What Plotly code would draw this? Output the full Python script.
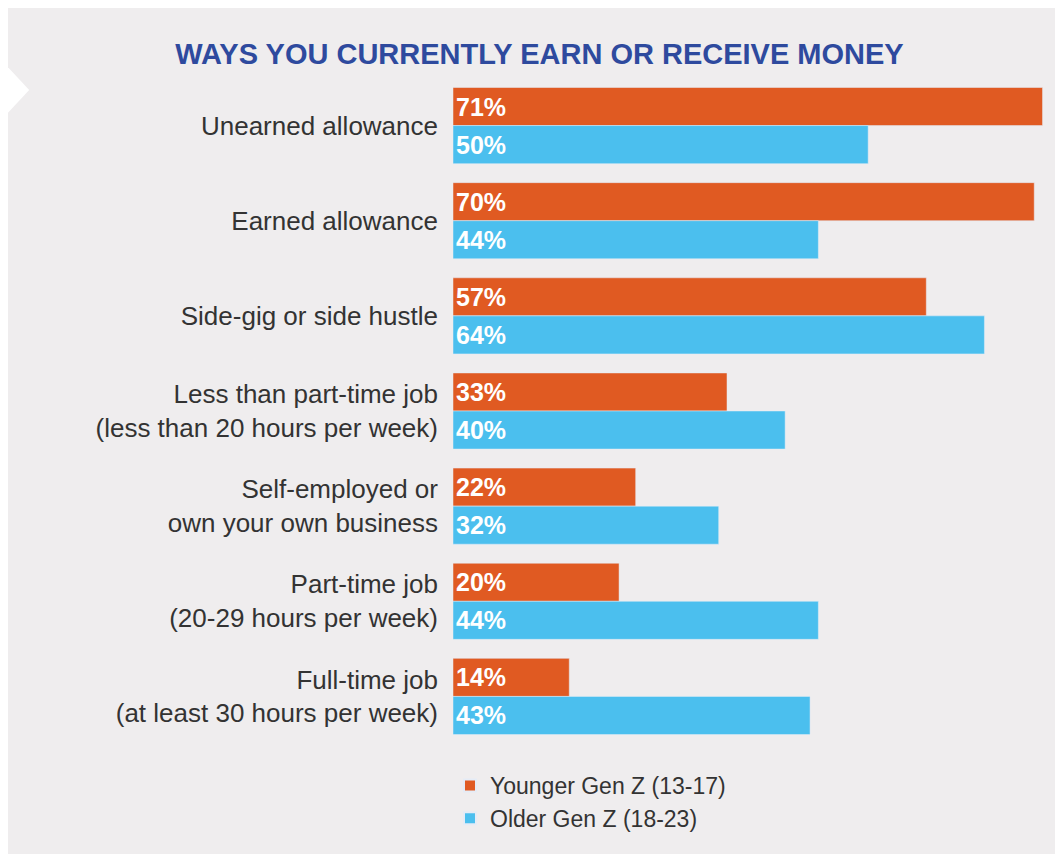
import plotly.graph_objects as go

categories = ["Unearned allowance", "Earned allowance", "Side-gig or side hustle",
              "Less than part-time job<br>(less than 20 hours per week)",
              "Self-employed or<br>own your own business",
              "Part-time job<br>(20-29 hours per week)",
              "Full-time job<br>(at least 30 hours per week)"]
younger = [71, 70, 57, 33, 22, 20, 14]
older = [50, 44, 64, 40, 32, 44, 43]

fig = go.Figure()
fig.add_trace(go.Bar(y=categories, x=younger, orientation="h", name="Younger Gen Z (13-17)",
                     marker_color="#e05a22", text=[f"<b>{v}%</b>" for v in younger]))
fig.add_trace(go.Bar(y=categories, x=older, orientation="h", name="Older Gen Z (18-23)",
                     marker_color="#4bbfee", text=[f"<b>{v}%</b>" for v in older]))
fig.update_traces(textposition="inside", insidetextanchor="start",
                  textfont=dict(color="white", size=25, family="Liberation Sans"),
                  textangle=0, cliponaxis=False)

# white arrow decoration at the left edge
fig.add_shape(type="path", xref="paper", yref="paper",
              path="M -0.77 1.046 L -0.704 0.982 L -0.77 0.918 Z",
              fillcolor="white", line_width=0)

fig.update_layout(
    width=1063, height=854,
    paper_bgcolor="#efedee", plot_bgcolor="#efedee",
    margin=dict(l=445, r=16, t=70, b=118),
    barmode="group", bargap=0.2, bargroupgap=0,
    title=dict(text="<b>WAYS YOU CURRENTLY EARN OR RECEIVE MONEY</b>", x=0.5, xref="container",
               xanchor="center", y=0.958, font=dict(size=29, color="#2e4a9e", family="Liberation Sans")),
    xaxis=dict(range=[0, 72.5], visible=False),
    yaxis=dict(autorange="reversed", showgrid=False, ticks="", ticklabelstandoff=14,
               tickfont=dict(size=26, color="#333333", family="Liberation Sans")),
    legend=dict(x=-0.005, y=-0.03, yanchor="top", xanchor="left", traceorder="normal",
                font=dict(size=23, color="#333333", family="Liberation Sans"),
                bgcolor="rgba(0,0,0,0)", itemsizing="constant"),
    showlegend=True,
)
fig.write_html("out.html")
